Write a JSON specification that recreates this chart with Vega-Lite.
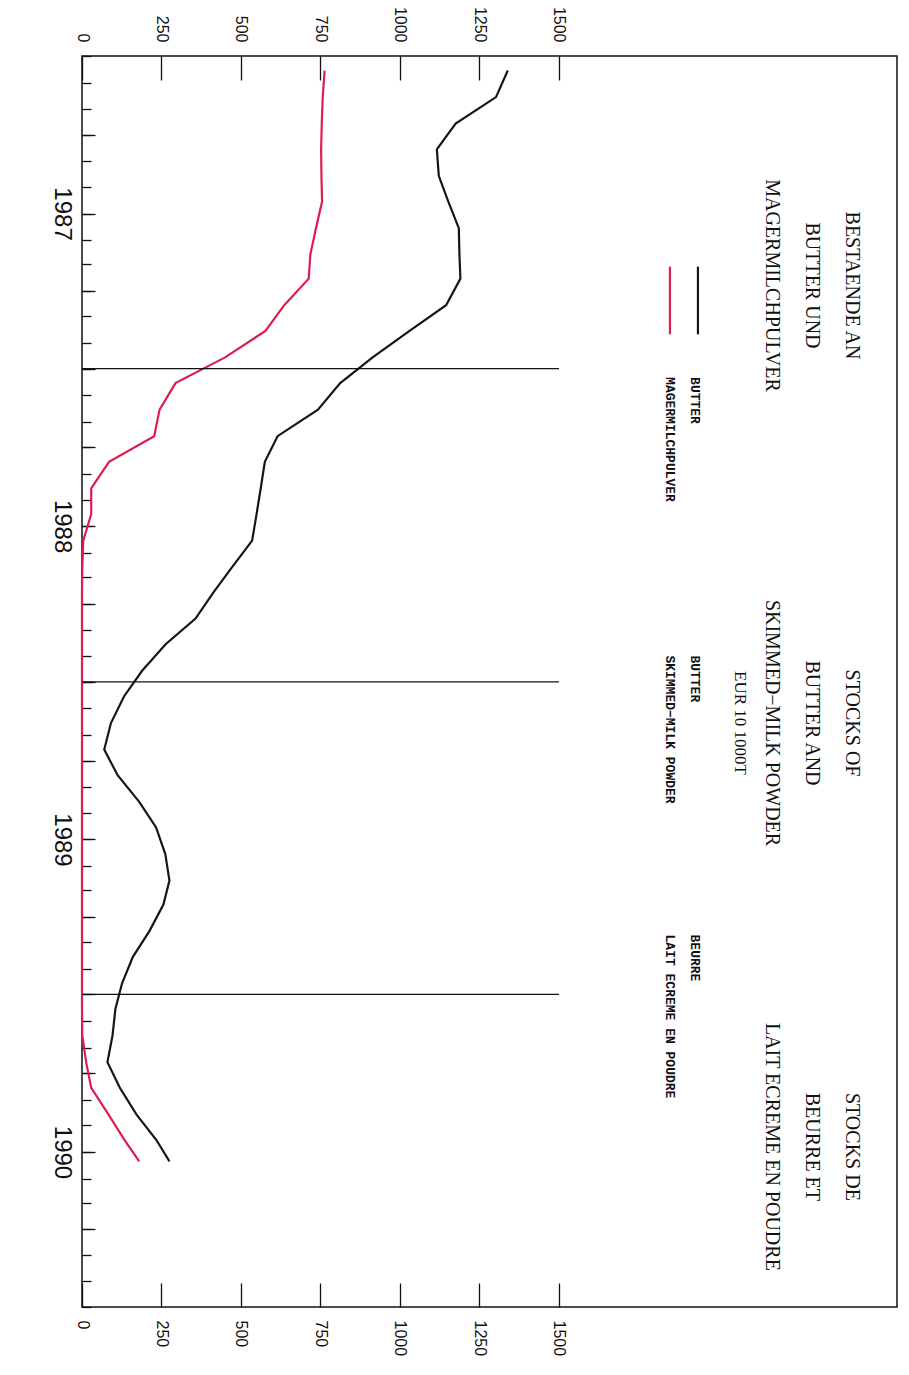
{
  "$schema": "https://vega.github.io/schema/vega-lite/v6.json",
  "autosize": "none",
  "width": 815,
  "height": 1251,
  "padding": {"left": 82, "top": 56, "right": 12, "bottom": 68},
  "background": "white",
  "config": {
    "view": {"stroke": "#111111", "strokeWidth": 1.5},
    "axis": {"domain": false, "grid": false}
  },
  "datasets": {
    "stocks": [
      {"date": "1986-07-18", "series": "BUTTER", "value": 1339},
      {"date": "1986-08-18", "series": "BUTTER", "value": 1302},
      {"date": "1986-09-18", "series": "BUTTER", "value": 1175},
      {"date": "1986-10-18", "series": "BUTTER", "value": 1116},
      {"date": "1986-11-18", "series": "BUTTER", "value": 1122},
      {"date": "1986-12-18", "series": "BUTTER", "value": 1152},
      {"date": "1987-01-18", "series": "BUTTER", "value": 1185},
      {"date": "1987-02-18", "series": "BUTTER", "value": 1187},
      {"date": "1987-03-18", "series": "BUTTER", "value": 1190},
      {"date": "1987-04-18", "series": "BUTTER", "value": 1145},
      {"date": "1987-05-18", "series": "BUTTER", "value": 1030},
      {"date": "1987-06-18", "series": "BUTTER", "value": 914},
      {"date": "1987-07-18", "series": "BUTTER", "value": 812},
      {"date": "1987-08-18", "series": "BUTTER", "value": 742},
      {"date": "1987-09-18", "series": "BUTTER", "value": 615},
      {"date": "1987-10-18", "series": "BUTTER", "value": 575},
      {"date": "1987-11-18", "series": "BUTTER", "value": 562},
      {"date": "1987-12-18", "series": "BUTTER", "value": 549},
      {"date": "1988-01-18", "series": "BUTTER", "value": 535},
      {"date": "1988-02-18", "series": "BUTTER", "value": 472},
      {"date": "1988-03-18", "series": "BUTTER", "value": 414},
      {"date": "1988-04-18", "series": "BUTTER", "value": 357},
      {"date": "1988-05-18", "series": "BUTTER", "value": 263},
      {"date": "1988-06-18", "series": "BUTTER", "value": 189},
      {"date": "1988-07-18", "series": "BUTTER", "value": 132},
      {"date": "1988-08-18", "series": "BUTTER", "value": 91},
      {"date": "1988-09-18", "series": "BUTTER", "value": 70},
      {"date": "1988-10-18", "series": "BUTTER", "value": 112},
      {"date": "1988-11-18", "series": "BUTTER", "value": 180},
      {"date": "1988-12-18", "series": "BUTTER", "value": 233},
      {"date": "1989-01-18", "series": "BUTTER", "value": 262},
      {"date": "1989-02-18", "series": "BUTTER", "value": 275},
      {"date": "1989-03-18", "series": "BUTTER", "value": 256},
      {"date": "1989-04-18", "series": "BUTTER", "value": 212},
      {"date": "1989-05-18", "series": "BUTTER", "value": 160},
      {"date": "1989-06-18", "series": "BUTTER", "value": 126},
      {"date": "1989-07-18", "series": "BUTTER", "value": 105},
      {"date": "1989-08-18", "series": "BUTTER", "value": 96},
      {"date": "1989-09-18", "series": "BUTTER", "value": 80},
      {"date": "1989-10-18", "series": "BUTTER", "value": 119},
      {"date": "1989-11-18", "series": "BUTTER", "value": 171},
      {"date": "1989-12-18", "series": "BUTTER", "value": 234},
      {"date": "1990-01-12", "series": "BUTTER", "value": 275},
      {"date": "1986-07-18", "series": "MAGERMILCHPULVER", "value": 763},
      {"date": "1986-08-18", "series": "MAGERMILCHPULVER", "value": 757},
      {"date": "1986-09-18", "series": "MAGERMILCHPULVER", "value": 754},
      {"date": "1986-10-18", "series": "MAGERMILCHPULVER", "value": 752},
      {"date": "1986-11-18", "series": "MAGERMILCHPULVER", "value": 753},
      {"date": "1986-12-18", "series": "MAGERMILCHPULVER", "value": 755},
      {"date": "1987-01-18", "series": "MAGERMILCHPULVER", "value": 736},
      {"date": "1987-02-18", "series": "MAGERMILCHPULVER", "value": 718},
      {"date": "1987-03-18", "series": "MAGERMILCHPULVER", "value": 713},
      {"date": "1987-04-18", "series": "MAGERMILCHPULVER", "value": 636},
      {"date": "1987-05-18", "series": "MAGERMILCHPULVER", "value": 577},
      {"date": "1987-06-18", "series": "MAGERMILCHPULVER", "value": 450},
      {"date": "1987-07-18", "series": "MAGERMILCHPULVER", "value": 294},
      {"date": "1987-08-18", "series": "MAGERMILCHPULVER", "value": 244},
      {"date": "1987-09-18", "series": "MAGERMILCHPULVER", "value": 227},
      {"date": "1987-10-18", "series": "MAGERMILCHPULVER", "value": 85},
      {"date": "1987-11-18", "series": "MAGERMILCHPULVER", "value": 29},
      {"date": "1987-12-18", "series": "MAGERMILCHPULVER", "value": 29},
      {"date": "1988-01-18", "series": "MAGERMILCHPULVER", "value": 4},
      {"date": "1988-02-18", "series": "MAGERMILCHPULVER", "value": 1},
      {"date": "1988-03-18", "series": "MAGERMILCHPULVER", "value": 0},
      {"date": "1988-04-18", "series": "MAGERMILCHPULVER", "value": 0},
      {"date": "1988-05-18", "series": "MAGERMILCHPULVER", "value": 0},
      {"date": "1988-06-18", "series": "MAGERMILCHPULVER", "value": 0},
      {"date": "1988-07-18", "series": "MAGERMILCHPULVER", "value": 0},
      {"date": "1988-08-18", "series": "MAGERMILCHPULVER", "value": 0},
      {"date": "1988-09-18", "series": "MAGERMILCHPULVER", "value": 0},
      {"date": "1988-10-18", "series": "MAGERMILCHPULVER", "value": 0},
      {"date": "1988-11-18", "series": "MAGERMILCHPULVER", "value": 0},
      {"date": "1988-12-18", "series": "MAGERMILCHPULVER", "value": 0},
      {"date": "1989-01-18", "series": "MAGERMILCHPULVER", "value": 0},
      {"date": "1989-02-18", "series": "MAGERMILCHPULVER", "value": 0},
      {"date": "1989-03-18", "series": "MAGERMILCHPULVER", "value": 0},
      {"date": "1989-04-18", "series": "MAGERMILCHPULVER", "value": 0},
      {"date": "1989-05-18", "series": "MAGERMILCHPULVER", "value": 0},
      {"date": "1989-06-18", "series": "MAGERMILCHPULVER", "value": 0},
      {"date": "1989-07-18", "series": "MAGERMILCHPULVER", "value": 0},
      {"date": "1989-08-18", "series": "MAGERMILCHPULVER", "value": 1},
      {"date": "1989-09-18", "series": "MAGERMILCHPULVER", "value": 13},
      {"date": "1989-10-18", "series": "MAGERMILCHPULVER", "value": 29},
      {"date": "1989-11-18", "series": "MAGERMILCHPULVER", "value": 83},
      {"date": "1989-12-18", "series": "MAGERMILCHPULVER", "value": 134},
      {"date": "1990-01-12", "series": "MAGERMILCHPULVER", "value": 180}
    ],
    "marketing": [
      {"date": "1987-07-01"},
      {"date": "1988-07-01"},
      {"date": "1989-07-01"}
    ]
  },
  "resolve": {"axis": {"x": "independent", "y": "independent"}},
  "layer": [
    {
      "data": {"name": "stocks"},
      "mark": {"type": "line", "strokeWidth": 2.2},
      "encoding": {
        "x": {
          "field": "value", "type": "quantitative",
          "scale": {"domain": [0, 2563], "nice": false, "zero": false},
          "axis": {
            "orient": "top", "values": [0, 250, 500, 750, 1000, 1250, 1500], "format": "d",
            "tickSize": -24, "tickColor": "#111111", "tickWidth": 1.3,
            "labelAngle": 90, "labelAlign": "right", "labelBaseline": "middle",
            "labelPadding": 38, "labelFont": "Liberation Sans", "labelFontSize": 16,
            "labelColor": "#111111", "labelOverlap": false, "labelFlush": false, "labelBound": false,
            "title": null
          }
        },
        "y": {
          "field": "date", "type": "temporal",
          "scale": {"type": "utc", "reverse": true, "nice": false,
            "domain": [{"year": 1986, "month": 7, "date": 1, "utc": true}, {"year": 1990, "month": 7, "date": 1, "utc": true}]},
          "axis": {
            "orient": "left",
            "tickCount": {"interval": "month", "step": 1},
            "tickSize": -9,
            "tickColor": "#111111", "tickWidth": 1.3,
            "labelExpr": "utcmonth(datum.value) === 0 ? utcFormat(datum.value, '%Y') : ''",
            "labelAngle": 90, "labelAlign": "center", "labelBaseline": "top",
            "labelPadding": 18, "labelFont": "Liberation Sans", "labelFontSize": 24,
            "labelColor": "#111111", "labelOverlap": false, "labelFlush": false, "labelBound": false,
            "title": null
          }
        },
        "color": {
          "field": "series", "type": "nominal",
          "scale": {"domain": ["BUTTER", "MAGERMILCHPULVER"], "range": ["#161616", "#dc1e4e"]},
          "legend": null
        },
        "order": {"field": "date", "type": "temporal"}
      }
    },
    {
      "data": {"name": "marketing"},
      "mark": {"type": "rule", "color": "#111111", "strokeWidth": 1.3},
      "encoding": {
        "y": {"field": "date", "type": "temporal",
          "scale": {"type": "utc", "reverse": true, "nice": false,
            "domain": [{"year": 1986, "month": 7, "date": 1, "utc": true}, {"year": 1990, "month": 7, "date": 1, "utc": true}]},
          "axis": {
            "orient": "left",
            "values": [
              {"year": 1986, "month": 10, "date": 1, "utc": true},
              {"year": 1987, "month": 1, "date": 1, "utc": true},
              {"year": 1987, "month": 4, "date": 1, "utc": true},
              {"year": 1987, "month": 7, "date": 1, "utc": true},
              {"year": 1987, "month": 10, "date": 1, "utc": true},
              {"year": 1988, "month": 1, "date": 1, "utc": true},
              {"year": 1988, "month": 4, "date": 1, "utc": true},
              {"year": 1988, "month": 7, "date": 1, "utc": true},
              {"year": 1988, "month": 10, "date": 1, "utc": true},
              {"year": 1989, "month": 1, "date": 1, "utc": true},
              {"year": 1989, "month": 4, "date": 1, "utc": true},
              {"year": 1989, "month": 7, "date": 1, "utc": true},
              {"year": 1989, "month": 10, "date": 1, "utc": true},
              {"year": 1990, "month": 1, "date": 1, "utc": true},
              {"year": 1990, "month": 4, "date": 1, "utc": true}
            ],
            "tickSize": -13, "tickColor": "#111111", "tickWidth": 1.3,
            "labels": false, "title": null
          }},
        "x": {"datum": 0, "type": "quantitative",
          "scale": {"domain": [0, 2563], "nice": false, "zero": false},
          "axis": {
            "orient": "bottom", "values": [0, 250, 500, 750, 1000, 1250, 1500], "format": "d",
            "tickSize": -24, "tickColor": "#111111", "tickWidth": 1.3,
            "labelAngle": 90, "labelAlign": "left", "labelBaseline": "middle",
            "labelPadding": 37, "labelFont": "Liberation Sans", "labelFontSize": 16,
            "labelColor": "#111111", "labelOverlap": false, "labelFlush": false, "labelBound": false,
            "title": null
          }},
        "x2": {"datum": 1500}
      }
    },
    {"data": {"values": [{}]}, "mark": {"type": "text", "text": "BESTAENDE AN", "angle": 90, "font": "Liberation Serif", "fontSize": 20, "align": "center", "baseline": "middle", "color": "#111111"},
     "encoding": {"x": {"datum": 2421, "type": "quantitative", "axis": null}, "y": {"datum": {"year": 1987, "month": 3, "date": 26, "utc": true}, "type": "temporal", "axis": null}}},
    {"data": {"values": [{}]}, "mark": {"type": "text", "text": "BUTTER UND", "angle": 90, "font": "Liberation Serif", "fontSize": 20, "align": "center", "baseline": "middle", "color": "#111111"},
     "encoding": {"x": {"datum": 2296, "type": "quantitative", "axis": null}, "y": {"datum": {"year": 1987, "month": 3, "date": 26, "utc": true}, "type": "temporal", "axis": null}}},
    {"data": {"values": [{}]}, "mark": {"type": "text", "text": "MAGERMILCHPULVER", "angle": 90, "font": "Liberation Serif", "fontSize": 20, "align": "center", "baseline": "middle", "color": "#111111"},
     "encoding": {"x": {"datum": 2170, "type": "quantitative", "axis": null}, "y": {"datum": {"year": 1987, "month": 3, "date": 26, "utc": true}, "type": "temporal", "axis": null}}},
    {"data": {"values": [{}]}, "mark": {"type": "text", "text": "STOCKS OF", "angle": 90, "font": "Liberation Serif", "fontSize": 20, "align": "center", "baseline": "middle", "color": "#111111"},
     "encoding": {"x": {"datum": 2421, "type": "quantitative", "axis": null}, "y": {"datum": {"year": 1988, "month": 8, "date": 18, "utc": true}, "type": "temporal", "axis": null}}},
    {"data": {"values": [{}]}, "mark": {"type": "text", "text": "BUTTER AND", "angle": 90, "font": "Liberation Serif", "fontSize": 20, "align": "center", "baseline": "middle", "color": "#111111"},
     "encoding": {"x": {"datum": 2296, "type": "quantitative", "axis": null}, "y": {"datum": {"year": 1988, "month": 8, "date": 18, "utc": true}, "type": "temporal", "axis": null}}},
    {"data": {"values": [{}]}, "mark": {"type": "text", "text": "SKIMMED−MILK POWDER", "angle": 90, "font": "Liberation Serif", "fontSize": 20, "align": "center", "baseline": "middle", "color": "#111111"},
     "encoding": {"x": {"datum": 2170, "type": "quantitative", "axis": null}, "y": {"datum": {"year": 1988, "month": 8, "date": 18, "utc": true}, "type": "temporal", "axis": null}}},
    {"data": {"values": [{}]}, "mark": {"type": "text", "text": "EUR 10 1000T", "angle": 90, "font": "Liberation Serif", "fontSize": 17, "align": "center", "baseline": "middle", "color": "#111111"},
     "encoding": {"x": {"datum": 2069, "type": "quantitative", "axis": null}, "y": {"datum": {"year": 1988, "month": 8, "date": 18, "utc": true}, "type": "temporal", "axis": null}}},
    {"data": {"values": [{}]}, "mark": {"type": "text", "text": "STOCKS DE", "angle": 90, "font": "Liberation Serif", "fontSize": 20, "align": "center", "baseline": "middle", "color": "#111111"},
     "encoding": {"x": {"datum": 2421, "type": "quantitative", "axis": null}, "y": {"datum": {"year": 1989, "month": 12, "date": 26, "utc": true}, "type": "temporal", "axis": null}}},
    {"data": {"values": [{}]}, "mark": {"type": "text", "text": "BEURRE ET", "angle": 90, "font": "Liberation Serif", "fontSize": 20, "align": "center", "baseline": "middle", "color": "#111111"},
     "encoding": {"x": {"datum": 2296, "type": "quantitative", "axis": null}, "y": {"datum": {"year": 1989, "month": 12, "date": 26, "utc": true}, "type": "temporal", "axis": null}}},
    {"data": {"values": [{}]}, "mark": {"type": "text", "text": "LAIT ECREME EN POUDRE", "angle": 90, "font": "Liberation Serif", "fontSize": 20, "align": "center", "baseline": "middle", "color": "#111111"},
     "encoding": {"x": {"datum": 2170, "type": "quantitative", "axis": null}, "y": {"datum": {"year": 1989, "month": 12, "date": 26, "utc": true}, "type": "temporal", "axis": null}}},
    {"data": {"values": [{}]}, "mark": {"type": "text", "text": "BUTTER", "angle": 90, "font": "Liberation Mono", "fontWeight": "bold", "fontSize": 13, "align": "left", "baseline": "middle", "color": "#111111"},
     "encoding": {"x": {"datum": 1928, "type": "quantitative", "axis": null}, "y": {"datum": {"year": 1987, "month": 7, "date": 11, "utc": true}, "type": "temporal", "axis": null}}},
    {"data": {"values": [{}]}, "mark": {"type": "text", "text": "MAGERMILCHPULVER", "angle": 90, "font": "Liberation Mono", "fontWeight": "bold", "fontSize": 13, "align": "left", "baseline": "middle", "color": "#111111"},
     "encoding": {"x": {"datum": 1849, "type": "quantitative", "axis": null}, "y": {"datum": {"year": 1987, "month": 7, "date": 11, "utc": true}, "type": "temporal", "axis": null}}},
    {"data": {"values": [{}]}, "mark": {"type": "text", "text": "BUTTER", "angle": 90, "font": "Liberation Mono", "fontWeight": "bold", "fontSize": 13, "align": "left", "baseline": "middle", "color": "#111111"},
     "encoding": {"x": {"datum": 1928, "type": "quantitative", "axis": null}, "y": {"datum": {"year": 1988, "month": 5, "date": 31, "utc": true}, "type": "temporal", "axis": null}}},
    {"data": {"values": [{}]}, "mark": {"type": "text", "text": "SKIMMED−MILK POWDER", "angle": 90, "font": "Liberation Mono", "fontWeight": "bold", "fontSize": 13, "align": "left", "baseline": "middle", "color": "#111111"},
     "encoding": {"x": {"datum": 1849, "type": "quantitative", "axis": null}, "y": {"datum": {"year": 1988, "month": 5, "date": 31, "utc": true}, "type": "temporal", "axis": null}}},
    {"data": {"values": [{}]}, "mark": {"type": "text", "text": "BEURRE", "angle": 90, "font": "Liberation Mono", "fontWeight": "bold", "fontSize": 13, "align": "left", "baseline": "middle", "color": "#111111"},
     "encoding": {"x": {"datum": 1928, "type": "quantitative", "axis": null}, "y": {"datum": {"year": 1989, "month": 4, "date": 22, "utc": true}, "type": "temporal", "axis": null}}},
    {"data": {"values": [{}]}, "mark": {"type": "text", "text": "LAIT ECREME EN POUDRE", "angle": 90, "font": "Liberation Mono", "fontWeight": "bold", "fontSize": 13, "align": "left", "baseline": "middle", "color": "#111111"},
     "encoding": {"x": {"datum": 1849, "type": "quantitative", "axis": null}, "y": {"datum": {"year": 1989, "month": 4, "date": 22, "utc": true}, "type": "temporal", "axis": null}}},
    {"data": {"values": [{}]}, "mark": {"type": "rule", "color": "#161616", "strokeWidth": 2.2},
     "encoding": {"x": {"datum": 1937, "type": "quantitative", "axis": null},
       "y": {"datum": {"year": 1987, "month": 3, "date": 4, "utc": true}, "type": "temporal", "axis": null},
       "y2": {"datum": {"year": 1987, "month": 5, "date": 22, "utc": true}}}},
    {"data": {"values": [{}]}, "mark": {"type": "rule", "color": "#dc1e4e", "strokeWidth": 2.2},
     "encoding": {"x": {"datum": 1849, "type": "quantitative", "axis": null},
       "y": {"datum": {"year": 1987, "month": 3, "date": 4, "utc": true}, "type": "temporal", "axis": null},
       "y2": {"datum": {"year": 1987, "month": 5, "date": 22, "utc": true}}}}
  ]
}
